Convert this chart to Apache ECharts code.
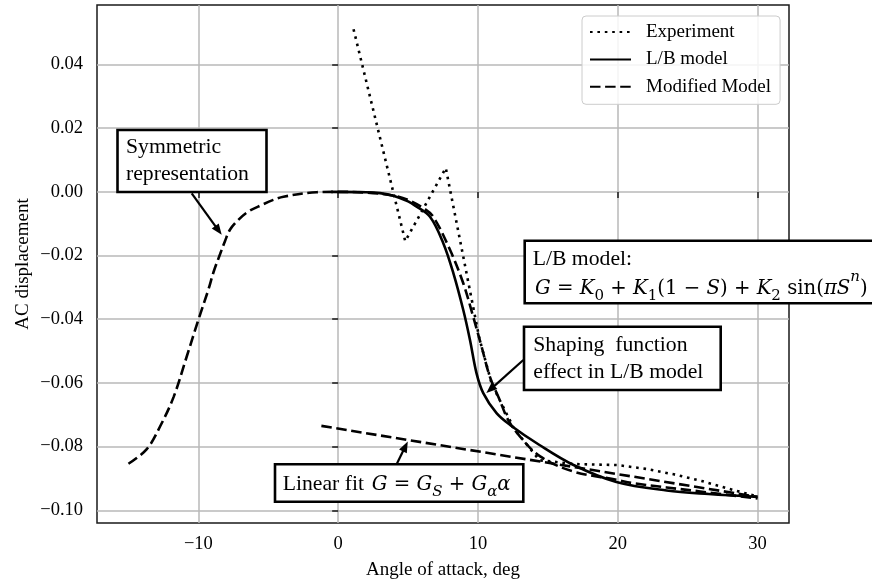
<!DOCTYPE html>
<html><head><meta charset="utf-8">
<script src="https://cdn.jsdelivr.net/npm/echarts@6/dist/echarts.min.js"></script>
<style>html,body{margin:0;padding:0;background:#fff}#c{width:872px;height:585px}</style>
</head><body><div id="c"></div>
<script>
// ---- data ----
const xTicks = [-10, 0, 10, 20, 30];
const yTicks = [-0.10, -0.08, -0.06, -0.04, -0.02, 0.00, 0.02, 0.04];

const expX = [1.1, 4.8, 7.7, 10.1, 11.0, 12.6, 14.4, 17, 20, 22, 24, 26, 28, 30];
const expY = [0.0511, -0.0155, 0.0075, -0.0460, -0.0605, -0.0745, -0.0843, -0.0855, -0.0858, -0.0870, -0.0887, -0.0908, -0.0933, -0.0957];

const lbX = [-0.5, 2, 3, 4, 5, 5.5, 6.57, 7.52, 8.24, 8.95, 9.43, 9.9, 10.38, 11.33, 12.3, 14.4, 16.8, 19.9, 23.5, 26.5, 30];
const lbY = [0, -0.0001, -0.0004, -0.0013, -0.003, -0.0043, -0.0078, -0.0161, -0.0255, -0.0371, -0.0465, -0.057, -0.0632, -0.0695, -0.0732, -0.0795, -0.0857, -0.0911, -0.0938, -0.0949, -0.0958];

const modX = [-15, -13.69, -12.74, -11.76, -10.83, -10, -9.29, -8.9, -8.45, -8.09, -7.74, -7.14, -6.43, -5.47, -4.64, -3.91, -1.54, 0, 2, 4, 5, 6.1, 6.8, 8.0, 8.95, 9.66, 10.26, 10.85, 11.55, 12.16, 13.0, 14.45, 16.8, 19.9, 21.1, 25.9, 30];
const modY = [-0.0854, -0.0808, -0.0737, -0.0643, -0.0517, -0.0402, -0.0308, -0.0250, -0.0196, -0.0154, -0.0119, -0.0088, -0.0062, -0.0041, -0.0025, -0.0015, -0.0001, 0, -0.0002, -0.0012, -0.0025, -0.0051, -0.0078, -0.0182, -0.0287, -0.0392, -0.0486, -0.058, -0.0653, -0.0716, -0.0768, -0.0831, -0.0878, -0.0904, -0.0915, -0.0941, -0.0963];

const linX = [-1.2, 30];
const linY = [-0.0735, -0.0958];

const seriesNames = ['Experiment', 'L/B model', 'Modified Model'];

// annotation arrow tips, in data coordinates
const tipSym = [-8.33, -0.0135];
const tipShape = [10.6, -0.0632];
const tipLin = [4.98, -0.0784];

// ---- chart ----
const zip = (xs, ys) => xs.map((x, i) => [x, ys[i]]);
const FONT = 'Liberation Serif';
const MATH = 'DejaVu Serif';
const minus = s => String(s).replace('-', '\u2212');

const chart = echarts.init(document.getElementById('c'), null, {renderer: 'canvas'});
const lineBase = {type: 'line', symbol: 'none', showSymbol: false, animation: false, silent: true};

chart.setOption({
  animation: false,
  backgroundColor: '#fff',
  grid: {left: 97, right: 83, top: 5, bottom: 62, show: true, borderColor: '#1a1a1a', borderWidth: 1.5, backgroundColor: 'transparent'},
  xAxis: {
    type: 'value', min: -17.25, max: 32.25,
    axisLine: {show: false},
    axisTick: {show: true, customValues: xTicks, length: 6, lineStyle: {color: '#1a1a1a', width: 1.5}},
    axisLabel: {customValues: xTicks, formatter: v => minus(v), fontFamily: FONT, fontSize: 18.5, color: '#000', margin: 12},
    splitLine: {show: true, lineStyle: {color: '#b8b8b8', width: 1.5}},
    name: 'Angle of attack, deg', nameLocation: 'middle', nameGap: 38, nameMoveOverlap: false,
    nameTextStyle: {fontFamily: FONT, fontSize: 19, color: '#000'}
  },
  yAxis: {
    type: 'value', min: -0.1040, max: 0.0587,
    axisLine: {show: false},
    axisTick: {show: true, customValues: yTicks, length: 6, lineStyle: {color: '#1a1a1a', width: 1.5}},
    axisLabel: {customValues: yTicks, formatter: v => (v < -1e-9 ? '\u2212' : '') + Math.abs(v).toFixed(2), fontFamily: FONT, fontSize: 18.5, color: '#000', margin: 14},
    splitLine: {show: true, lineStyle: {color: '#b8b8b8', width: 1.5}},
    name: 'AC displacement', nameLocation: 'middle', nameGap: 64, nameMoveOverlap: false,
    nameTextStyle: {fontFamily: FONT, fontSize: 19, color: '#000'}
  },
  legend: {
    data: seriesNames, orient: 'vertical', left: 582, top: 16,
    itemWidth: 41, itemHeight: 14, itemGap: 8.4,
    padding: [6.5, 9, 8, 7],
    backgroundColor: 'rgba(255,255,255,0.85)', borderColor: '#cccccc', borderWidth: 1, borderRadius: 4,
    itemStyle: {color: 'rgba(0,0,0,0)', borderWidth: 0, opacity: 0},
    textStyle: {fontFamily: FONT, fontSize: 19, color: '#000', padding: [0, 0, 0, 10]},
    selectedMode: false
  },
  series: [
    Object.assign({}, lineBase, {name: seriesNames[0], data: zip(expX, expY),
      lineStyle: {color: '#000', width: 2.6, type: [2.6, 4.8], cap: 'butt'}, itemStyle: {color: '#000'}}),
    Object.assign({}, lineBase, {name: seriesNames[1], data: zip(lbX, lbY), smooth: 0.35,
      lineStyle: {color: '#000', width: 2.6, type: 'solid'}, itemStyle: {color: '#000'}}),
    Object.assign({}, lineBase, {name: seriesNames[2], data: zip(modX, modY), smooth: 0.35,
      lineStyle: {color: '#000', width: 2.6, type: [10.5, 4.6], cap: 'butt'}, itemStyle: {color: '#000'}}),
    Object.assign({}, lineBase, {name: 'Linear fit', data: zip(linX, linY),
      lineStyle: {color: '#000', width: 2.6, type: [10.5, 4.6], cap: 'butt'}, itemStyle: {color: '#000'}})
  ]
});

// ---- annotations ----
const toPx = p => chart.convertToPixel({gridIndex: 0}, p);
function arrow(tail, tip) {
  const dx = tip[0] - tail[0], dy = tip[1] - tail[1], L = Math.hypot(dx, dy);
  const ux = dx / L, uy = dy / L, hl = 11, hw = 4.3;
  const bx = tip[0] - ux * hl, by = tip[1] - uy * hl;
  return [
    {type: 'line', z: 100, shape: {x1: tail[0], y1: tail[1], x2: bx + ux * 2, y2: by + uy * 2}, style: {stroke: '#000', lineWidth: 2.2}},
    {type: 'polygon', z: 100, shape: {points: [tip, [bx - uy * hw, by + ux * hw], [bx + uy * hw, by - ux * hw]]}, style: {fill: '#000'}}
  ];
}
function box(x, y, w, h) {
  return {type: 'rect', z: 100, shape: {x: x, y: y, width: w, height: h}, style: {fill: '#fff', stroke: '#000', lineWidth: 2.6}};
}
function txt(x, y, text, lh, extra) {
  return {type: 'text', z: 101, x: x, y: y,
    style: Object.assign({text: text, fontFamily: FONT, fontSize: 21.7, fill: '#000', lineHeight: lh, align: 'left', verticalAlign: 'top'}, extra || {})};
}
const MS = 19.7;
const mathRich = {
  i: {fontFamily: MATH, fontStyle: 'italic', fontSize: MS},
  s: {fontFamily: MATH, fontStyle: 'italic', fontSize: 15, verticalAlign: 'bottom'},
  sn: {fontFamily: MATH, fontSize: 15, verticalAlign: 'bottom'},
  p: {fontFamily: MATH, fontStyle: 'italic', fontSize: 15, height: 7, verticalAlign: 'top'}
};
function math(x, y, text) {
  return txt(x, y, text, 30, {rich: mathRich, fontFamily: MATH, fontSize: MS});
}

const g = [];
g.push(box(117.5, 130, 149, 62));
g.push(txt(126, 134.3, 'Symmetric\nrepresentation', 26.7));
g.push(...arrow([191.7, 193.3], toPx(tipSym)));

g.push(box(524.7, 240.7, 360, 62.6));
g.push(txt(532.7, 246, 'L/B model:', 26.7));
g.push(math(535, 274, '{i|G} = {i|K}{sn|0} + {i|K}{sn|1}(1 \u2212 {i|S}) + {i|K}{sn|2} sin({i|\u03c0S}{p|n})'));

g.push(box(524, 326.7, 196.7, 63.3));
g.push(txt(533.3, 332, 'Shaping  function\neffect in L/B model', 26.7));
g.push(...arrow([523.3, 360], toPx(tipShape)));

g.push(box(275, 464.3, 248.3, 37.4));
g.push(txt(282.7, 471.3, 'Linear fit', 26.7));
g.push(math(371.7, 469.8, '{i|G} = {i|G}{s|S} + {i|G}{s|\u03b1}{i|\u03b1}'));
g.push(...arrow([396.5, 464.5], toPx(tipLin)));

chart.setOption({graphic: {elements: g}});
</script>
</body></html>
